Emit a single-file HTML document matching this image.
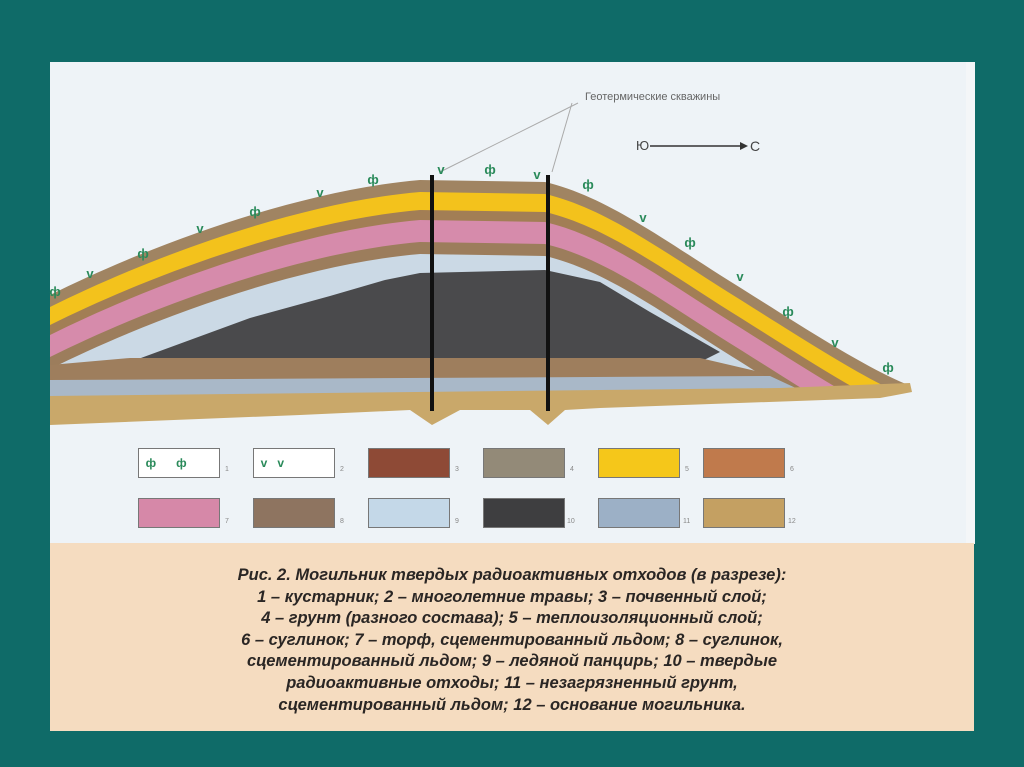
<!DOCTYPE html>
<html><head><meta charset="utf-8"><style>
body{margin:0;width:1024px;height:767px;background:#0f6b68;position:relative;overflow:hidden;font-family:"Liberation Sans",sans-serif}
#panel{position:absolute;left:50px;top:62px;width:916px;height:482px;background:#eef3f7}
#cap{position:absolute;left:50px;top:543px;width:924px;height:188px;background:#f5dcc0}
#cap p{margin:0;position:absolute;left:0;width:924px;top:22px;text-align:center;font-weight:bold;font-style:italic;font-size:16.5px;line-height:21.6px;color:#2a2624}
.sw{position:absolute;width:80px;height:28px;border:1px solid #777}
.n{position:absolute;font-size:7px;color:#888}
</style></head><body>
<div id="panel"></div>
<div style="position:absolute;left:966px;top:62px;width:9px;height:482px;background:#f4f6f8"></div>
<svg style="position:absolute;left:0;top:0" width="1024" height="767">
<defs>
<path id="mound" d="M50,295 C150,245 300,190 420,180 L545,182 C600,195 650,230 720,275 C800,325 860,365 908,385 L908,392 L50,392 Z"/>
<path id="lay" d="M50,295 C150,245 300,190 420,180 L545,182 C600,195 650,230 720,275 C800,325 860,365 908,385 L960,460 L50,460 Z"/>
<clipPath id="cl"><use href="#mound"/></clipPath>
</defs>
<use href="#mound" fill="#a08462"/>
<g clip-path="url(#cl)">
<use href="#lay" fill="#f3c21c" transform="translate(0,12)"/>
<use href="#lay" fill="#a27e55" transform="translate(0,30)"/>
<use href="#lay" fill="#d68bab" transform="translate(0,40)"/>
<use href="#lay" fill="#9c7d5c" transform="translate(0,62)"/>
<use href="#lay" fill="#cbd9e5" transform="translate(0,74)"/>
</g>
<polygon points="130,362 250,318 330,296 385,280 420,273 545,270 600,282 650,312 720,352 700,362" fill="#4a4a4c"/>
<polygon points="50,365 130,358 700,358 760,372 770,380 50,382" fill="#9e7e5d"/>
<polygon points="50,380 770,376 800,390 50,400" fill="#a9b8c8"/>
<path d="M50,396 L780,388 L910,383 L912,392 L880,398 L600,408 L565,410 L548,425 L530,410 L460,410 L432,425 L410,410 L300,415 L50,425 Z" fill="#c9a86a"/>
<rect x="430" y="175" width="4" height="236" fill="#111"/>
<rect x="546" y="175" width="4" height="236" fill="#111"/>
<line x1="578" y1="103" x2="440" y2="172" stroke="#aaa"/>
<line x1="572" y1="103" x2="552" y2="172" stroke="#aaa"/>
<text x="585" y="100" font-size="11" fill="#666">Геотермические скважины</text>
<text x="636" y="150" font-size="13" fill="#444">Ю</text>
<line x1="650" y1="146" x2="740" y2="146" stroke="#333" stroke-width="1.5"/>
<polygon points="740,142 748,146 740,150" fill="#333"/>
<text x="750" y="151" font-size="14" fill="#444">С</text>
<g fill="#2a8a5a" font-weight="bold" font-size="13" text-anchor="middle">
<text x="55" y="296">ф</text><text x="90" y="278">v</text><text x="143" y="258">ф</text><text x="200" y="233">v</text><text x="255" y="216">ф</text><text x="320" y="197">v</text><text x="373" y="184">ф</text><text x="441" y="174">v</text><text x="490" y="174">ф</text><text x="537" y="179">v</text><text x="588" y="189">ф</text><text x="643" y="222">v</text><text x="690" y="247">ф</text><text x="740" y="281">v</text><text x="788" y="316">ф</text><text x="835" y="347">v</text><text x="888" y="372">ф</text>
</g>
</svg>
<div class="sw" style="left:138px;top:448px;background:#fff;color:#2a8a5a;font-weight:bold;font-size:12px;line-height:28px">&nbsp;&nbsp;ф&nbsp;&nbsp;&nbsp;&nbsp;&nbsp;&nbsp;ф</div>
<div class="sw" style="left:253px;top:448px;background:#fff;color:#2a8a5a;font-weight:bold;font-size:12px;line-height:28px">&nbsp;&nbsp;v&nbsp;&nbsp;&nbsp;v</div>
<div class="sw" style="left:368px;top:448px;background:#8e4a36"></div>
<div class="sw" style="left:483px;top:448px;background:#938a78"></div>
<div class="sw" style="left:598px;top:448px;background:#f5c71a"></div>
<div class="sw" style="left:703px;top:448px;background:#c07a4c"></div>
<div class="sw" style="left:138px;top:498px;background:#d688a8"></div>
<div class="sw" style="left:253px;top:498px;background:#8e7460"></div>
<div class="sw" style="left:368px;top:498px;background:#c4d8e8"></div>
<div class="sw" style="left:483px;top:498px;background:#3e3e40"></div>
<div class="sw" style="left:598px;top:498px;background:#9cb0c6"></div>
<div class="sw" style="left:703px;top:498px;background:#c4a062"></div>
<span class="n" style="left:225px;top:466px">1</span><span class="n" style="left:340px;top:466px">2</span><span class="n" style="left:455px;top:466px">3</span><span class="n" style="left:570px;top:466px">4</span><span class="n" style="left:685px;top:466px">5</span><span class="n" style="left:790px;top:466px">6</span>
<span class="n" style="left:225px;top:518px">7</span><span class="n" style="left:340px;top:518px">8</span><span class="n" style="left:455px;top:518px">9</span><span class="n" style="left:567px;top:518px">10</span><span class="n" style="left:683px;top:518px">11</span><span class="n" style="left:788px;top:518px">12</span>
<div id="cap"><p>Рис. 2. Могильник твердых радиоактивных отходов (в разрезе):<br>1 – кустарник; 2 – многолетние травы; 3 – почвенный слой;<br>4 – грунт (разного состава); 5 – теплоизоляционный слой;<br>6 – суглинок; 7 – торф, сцементированный льдом; 8 – суглинок,<br>сцементированный льдом; 9 – ледяной панцирь; 10 – твердые<br>радиоактивные отходы; 11 – незагрязненный грунт,<br>сцементированный льдом; 12 – основание могильника.</p></div>
</body></html>
